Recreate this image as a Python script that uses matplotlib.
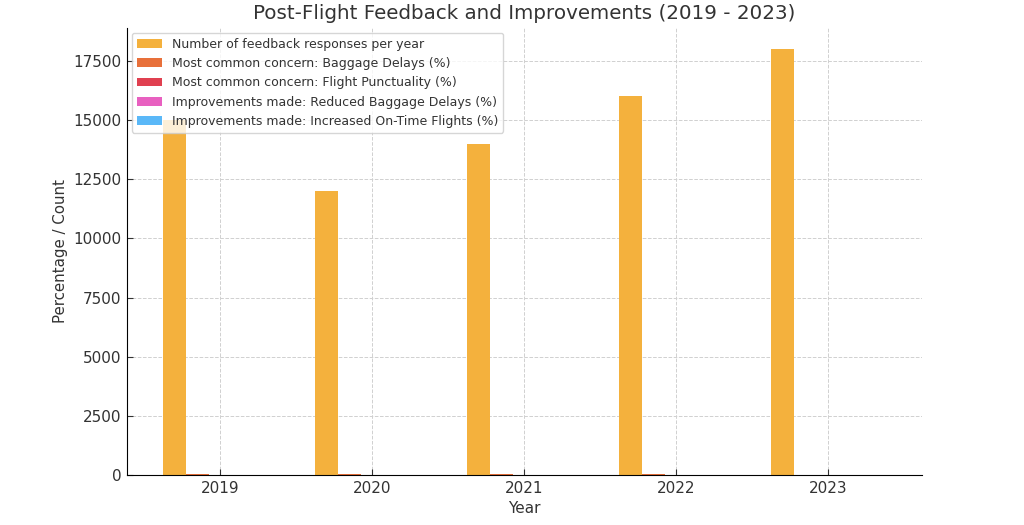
import numpy as np
import matplotlib
matplotlib.use('Agg')
from matplotlib import pyplot as plt

years = ['2019', '2020', '2021', '2022', '2023']
responses = [15000, 12000, 14000, 16000, 18000]
baggage_concern = [45, 40, 35, 30, 0]
punctuality_concern = [20, 18, 15, 12, 10]
baggage_improved = [5, 10, 15, 20, 25]
ontime_improved = [5, 8, 12, 15, 20]

series = [
    ('Number of feedback responses per year', responses, '#f4b13d'),
    ('Most common concern: Baggage Delays (%)', baggage_concern, '#e8703a'),
    ('Most common concern: Flight Punctuality (%)', punctuality_concern, '#e04050'),
    ('Improvements made: Reduced Baggage Delays (%)', baggage_improved, '#e860c0'),
    ('Improvements made: Increased On-Time Flights (%)', ontime_improved, '#5ab8f8'),
]

plt.rcParams['text.color'] = '#333333'
plt.rcParams['axes.labelcolor'] = '#333333'
plt.rcParams['xtick.color'] = '#333333'
plt.rcParams['ytick.color'] = '#333333'

fig, ax = plt.subplots(figsize=(10.24, 5.25), dpi=100)
fig.subplots_adjust(left=0.124, right=0.9, top=0.947, bottom=0.095)

x = np.arange(len(years))
w = 0.15
for i, (label, vals, color) in enumerate(series):
    ax.bar(x + (i - 2) * w, vals, w, label=label, color=color)

ax.set_xticks(x)
ax.set_xticklabels(years, fontsize=11)
ax.tick_params(axis='both', direction='in', length=4, pad=4)
ax.tick_params(axis='y', labelsize=11)
ax.set_xlabel('Year', fontsize=11)
ax.set_ylabel('Percentage / Count', fontsize=10.8)
ax.set_title('Post-Flight Feedback and Improvements (2019 - 2023)', fontsize=14.3)
ax.grid(True, linestyle='--', color='#d0d0d0', linewidth=0.7)
ax.set_axisbelow(True)
ax.spines['top'].set_visible(False)
ax.spines['right'].set_visible(False)
ax.legend(loc='upper left', fontsize=9, borderaxespad=0.4)

fig.savefig('out.png')
